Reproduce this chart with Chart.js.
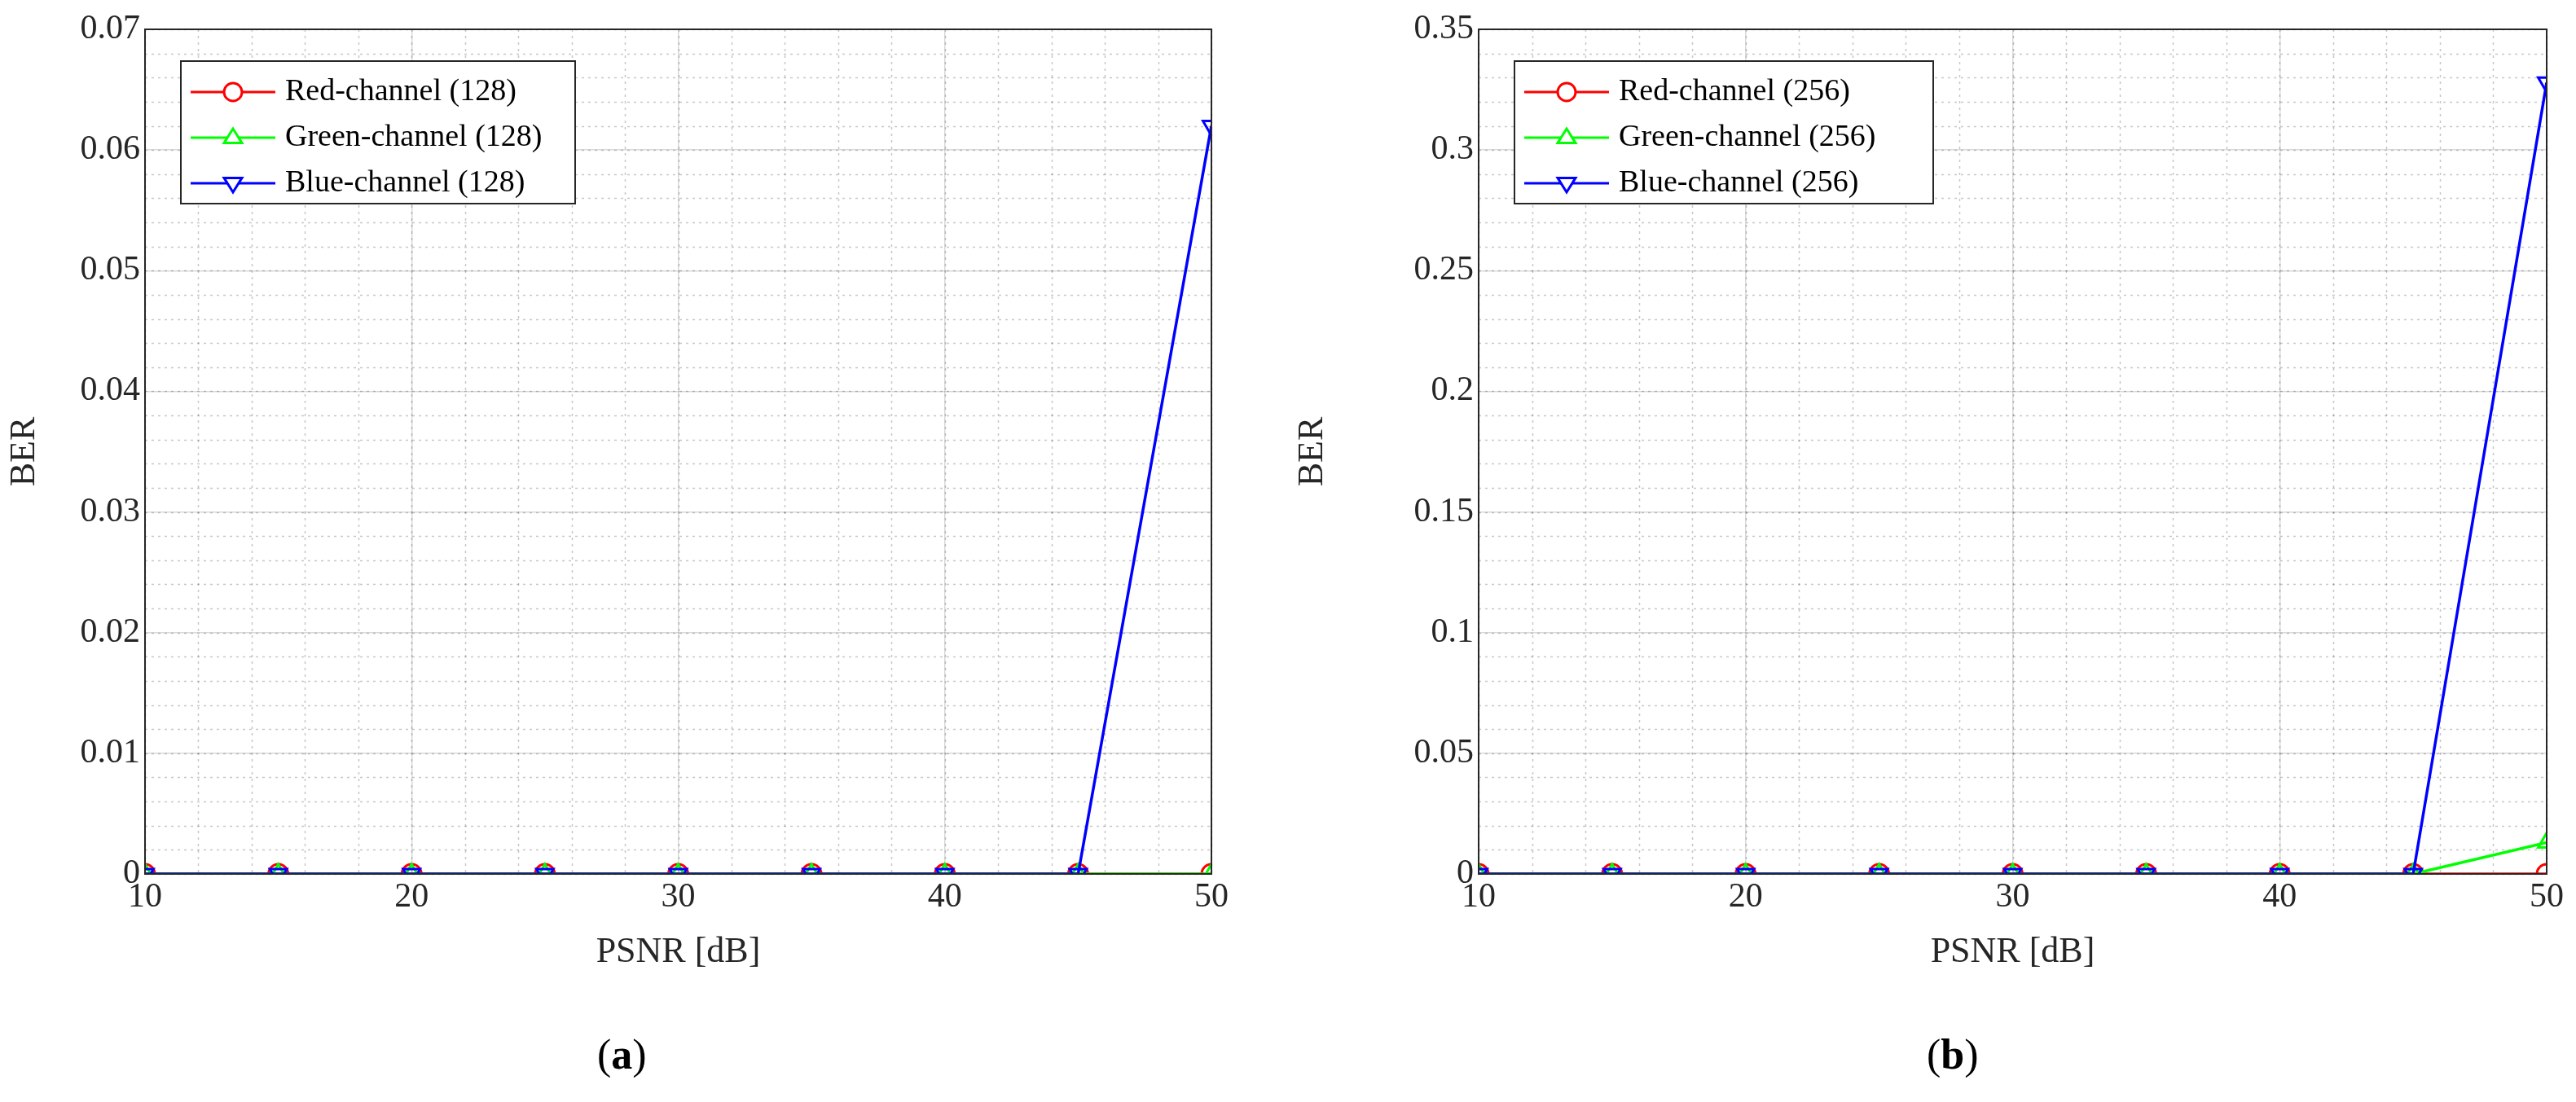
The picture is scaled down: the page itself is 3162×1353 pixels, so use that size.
<!DOCTYPE html>
<html>
<head>
<meta charset="utf-8">
<script src="https://cdn.jsdelivr.net/npm/chart.js@4"></script>
<style>
  body { margin: 0; background: #fff; width: 3162px; height: 1353px; position: relative; overflow: hidden; }
  .box { position: absolute; top: 0; height: 1200px; }
  .cap { position: absolute; top: 1265px; font-family: "Liberation Serif", serif; font-size: 52px; }
</style>
</head>
<body>
<div class="box" style="left:0;width:1530px"><canvas id="chartA"></canvas></div>
<div class="box" style="left:1581px;width:1581px"><canvas id="chartB"></canvas></div>
<div class="cap" style="left:733px">(<b>a</b>)</div>
<div class="cap" style="left:2365px">(<b>b</b>)</div>
<script>
// PSNR values (x axis)
const psnr = [10, 15, 20, 25, 30, 35, 40, 45, 50];

// panel (a): 128
const redA = [0, 0, 0, 0, 0, 0, 0, 0, 0];
const greenA = [0, 0, 0, 0, 0, 0, 0, 0, 0];
const blueA = [0, 0, 0, 0, 0, 0, 0, 0, 0.062];

// panel (b): 256
const redB = [0, 0, 0, 0, 0, 0, 0, 0, 0];
const greenB = [0, 0, 0, 0, 0, 0, 0, 0, 0.013];
const blueB = [0, 0, 0, 0, 0, 0, 0, 0, 0.328];

const FONT = 'Liberation Serif';

// dotted minor grid lines + axes box
const minorGrid = {
    id: 'minorGrid',
    beforeDatasetsDraw(chart, args, opts) {
        const ctx = chart.ctx, a = chart.chartArea;
        const xs = chart.scales.x, ys = chart.scales.y;
        ctx.save();
        ctx.strokeStyle = 'rgba(0,0,0,0.22)';
        ctx.lineWidth = 1.5;
        ctx.setLineDash([3, 5]);
        for (let v = xs.min; v <= xs.max + 1e-9; v += opts.xStep) {
            const px = Math.round(xs.getPixelForValue(v)) + 0.5;
            ctx.beginPath(); ctx.moveTo(px, a.top); ctx.lineTo(px, a.bottom); ctx.stroke();
        }
        for (let v = ys.min; v <= ys.max + 1e-9; v += opts.yStep) {
            const py = Math.round(ys.getPixelForValue(v)) + 0.5;
            ctx.beginPath(); ctx.moveTo(a.left, py); ctx.lineTo(a.right, py); ctx.stroke();
        }
        ctx.restore();
    },
    afterDraw(chart) {
        const ctx = chart.ctx, a = chart.chartArea;
        ctx.save();
        ctx.strokeStyle = '#262626';
        ctx.lineWidth = 2;
        ctx.strokeRect(a.left, a.top, a.right - a.left, a.bottom - a.top);
        ctx.restore();
    }
};

// boxed legend, matlab style
const boxLegend = {
    id: 'boxLegend',
    afterDraw(chart, args, opts) {
        const ctx = chart.ctx, a = chart.chartArea;
        const x0 = a.left + 44, y0 = a.top + 39, w = opts.width, h = 175;
        ctx.save();
        ctx.fillStyle = '#fff';
        ctx.fillRect(x0, y0, w, h);
        ctx.strokeStyle = '#262626';
        ctx.lineWidth = 2;
        ctx.strokeRect(x0, y0, w, h);
        ctx.font = '38px "' + FONT + '"';
        ctx.textBaseline = 'middle';
        chart.data.datasets.forEach((ds, i) => {
            const cy = y0 + 38 + i * 56;
            ctx.strokeStyle = ds.borderColor;
            ctx.lineWidth = 3;
            ctx.beginPath(); ctx.moveTo(x0 + 12, cy); ctx.lineTo(x0 + 116, cy); ctx.stroke();
            const mx = x0 + 64, r = 11;
            ctx.beginPath();
            if (ds.pointStyle === 'circle') {
                ctx.arc(mx, cy, r, 0, Math.PI * 2);
            } else if (ds.pointRotation === 180) {
                ctx.moveTo(mx - r, cy - r * 0.6); ctx.lineTo(mx + r, cy - r * 0.6); ctx.lineTo(mx, cy + r); ctx.closePath();
            } else {
                ctx.moveTo(mx - r, cy + r * 0.6); ctx.lineTo(mx + r, cy + r * 0.6); ctx.lineTo(mx, cy - r); ctx.closePath();
            }
            ctx.fillStyle = '#fff'; ctx.fill(); ctx.stroke();
            ctx.fillStyle = '#000';
            ctx.fillText(ds.label, x0 + 128, cy);
        });
        ctx.restore();
    }
};

function makeDataset(label, data, color, style, rot, order) {
    return {
        label: label,
        data: psnr.map((x, i) => ({ x: x, y: data[i] })),
        borderColor: color,
        backgroundColor: 'rgba(0,0,0,0)',
        borderWidth: 3.5,
        pointStyle: style,
        pointRotation: rot,
        pointRadius: 12,
        pointBorderWidth: 3,
        tension: 0,
        order: order
    };
}

function createPanel(id, tag, reds, greens, blues, yMax, yStep, yMinor, yWidth, rightPad, legendW) {
    const ctx = document.getElementById(id).getContext('2d');
    return new Chart(ctx, {
        type: 'line',
        data: {
            datasets: [
                makeDataset('Red-channel (' + tag + ')', reds, '#ff0000', 'circle', 0, 3),
                makeDataset('Green-channel (' + tag + ')', greens, '#00ff00', 'triangle', 0, 2),
                makeDataset('Blue-channel (' + tag + ')', blues, '#0000ff', 'triangle', 180, 1)
            ]
        },
        options: {
            responsive: true,
            maintainAspectRatio: false,
            animation: false,
            layout: { padding: { top: 36, right: rightPad, left: 0, bottom: 0 } },
            plugins: {
                legend: { display: false },
                tooltip: { enabled: false },
                minorGrid: { xStep: 2, yStep: yMinor },
                boxLegend: { width: legendW }
            },
            scales: {
                x: {
                    type: 'linear', min: 10, max: 50,
                    ticks: { stepSize: 10, color: '#262626', font: { family: FONT, size: 42 }, padding: 4 },
                    grid: { color: 'rgba(0,0,0,0.15)', lineWidth: 1.5, tickLength: 0 },
                    border: { display: false },
                    title: { display: true, text: 'PSNR [dB]', color: '#262626', font: { family: FONT, size: 44 } },
                    afterFit: s => { s.height = 127; }
                },
                y: {
                    min: 0, max: yMax,
                    ticks: { stepSize: yStep, color: '#262626', font: { family: FONT, size: 42 }, padding: 6,
                        callback: v => String(parseFloat(v.toFixed(3))) },
                    grid: { color: 'rgba(0,0,0,0.15)', lineWidth: 1.5, tickLength: 0 },
                    border: { display: false },
                    title: { display: true, text: 'BER', color: '#262626', font: { family: FONT, size: 44 } },
                    afterFit: s => { s.width = yWidth; }
                }
            }
        },
        plugins: [minorGrid, boxLegend]
    });
}

createPanel('chartA', '128', redA, greenA, blueA, 0.07, 0.01, 0.002, 178, 43, 484);
createPanel('chartB', '256', redB, greenB, blueB, 0.35, 0.05, 0.01, 234, 36, 514);
</script>
</body>
</html>
